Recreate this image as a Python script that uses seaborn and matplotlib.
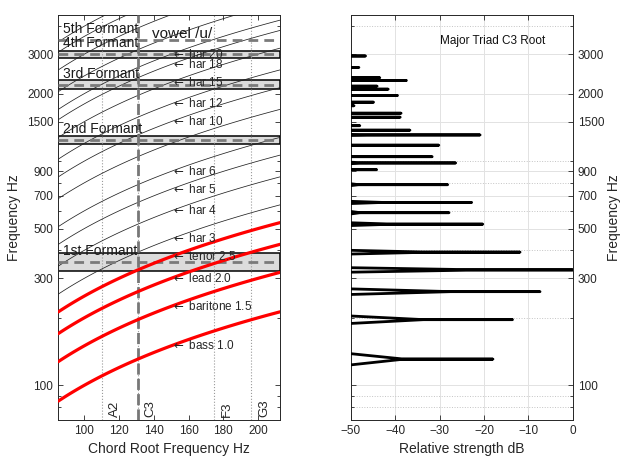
import numpy as np
import pandas as pd
import matplotlib
matplotlib.use('Agg')
import matplotlib.pyplot as plt
import seaborn as sns

sns.set_theme(style='ticks')
plt.rcParams['font.family'] = ['Liberation Sans', 'DejaVu Sans']

# chord / voices
root_hz = 130.81
voice_ratio = [1.0, 1.5, 2.0, 2.5]
voice_name = ['bass', 'baritone', 'lead', 'tenor']

# harmonic guide lines (multiples of root) and which ones get a label
har_lines = [3, 4, 5, 6, 8, 10, 12, 15, 18, 20, 24, 30, 36, 40]
har_labels = [3, 4, 5, 6, 10, 12, 15, 18, 20]

# vowel /u/ formants
formant_hz = [355, 1240, 2195, 2990, 3460]
formant_half = [33, 50, 103, 108, 0]
formant_name = ['1st Formant', '2nd Formant', '3rd Formant', '4th Formant', '5th Formant']

# notes on the x axis
note_hz = [110.0, 130.81, 174.61, 196.0]
note_name = ['A2', 'C3', 'F3', 'G3']

# spectrum peaks of the chord (Hz, dB)
peak_hz = [130.8, 196.2, 261.6, 327.0, 392.4, 523.2, 588.6, 654.0, 784.8, 915.6,
           981.0, 1046.4, 1177.2, 1308.0, 1373.4, 1438.8, 1569.6, 1635.0, 1765.8,
           1831.2, 1962.0, 2093.0, 2158.4, 2289.2, 2354.6, 2616.2, 2943.3]
peak_db = [-18.0, -13.6, -7.4, 0.0, -11.9, -20.3, -27.9, -22.8, -28.2, -44.2,
           -26.4, -31.7, -30.2, -20.9, -36.7, -48.0, -38.9, -38.7, -49.3,
           -44.9, -39.5, -41.6, -44.1, -37.5, -43.5, -48.2, -46.7]

x_lo, x_hi = 85, 212.6
y_lo, y_hi = 70, 4500
y_ticks = [100, 300, 500, 700, 900, 1500, 2000, 3000]
y_minor = [80, 90, 200, 400, 600, 800, 1000, 4000]
ink = '#262626'

fig = plt.figure(figsize=(6.2, 4.58), dpi=100)
ax1 = fig.add_axes([0.094, 0.083, 0.3576, 0.885])
ax2 = fig.add_axes([0.566, 0.083, 0.358, 0.885])

# ---------------- left panel ----------------
ax1.set_yscale('log')
xs = np.linspace(x_lo, x_hi, 80)

# formant bands
for f, hw, name in zip(formant_hz, formant_half, formant_name):
    if hw > 0:
        ax1.axhspan(f - hw, f + hw, facecolor='#dcdcdc', edgecolor='black', lw=1.1, zorder=1)
    ax1.axhline(f, color='#7a7a7a', lw=2, ls=(0, (3.5, 2.2)), zorder=4)
    ax1.text(88, f * 1.12, name, fontsize=10, ha='left', va='center', color='#1a1a1a', zorder=6)
ax1.text(139, 3700, 'vowel /u/', fontsize=11, ha='left', va='center', color='#1a1a1a', zorder=6)

# note markers
for f, name in zip(note_hz, note_name):
    ax1.axvline(f, color='#9a9a9a', lw=0.8, ls=':', zorder=1.5)
    ax1.annotate(name, xy=(f, 72), xytext=(5, 0), textcoords='offset points',
                 rotation=90, ha='left', va='bottom', fontsize=9.5, color=ink)
ax1.axvline(root_hz, color='#777777', lw=2, ls=(0, (4, 1.5)), zorder=4)

# harmonic lines
har_df = pd.DataFrame([(x, n * x, n) for n in har_lines for x in xs], columns=['x', 'f', 'n'])
sns.lineplot(data=har_df, x='x', y='f', units='n', estimator=None, sort=False,
             color='#222222', lw=0.55, ax=ax1, zorder=3)
for n in har_labels:
    ax1.text(150, n * 150, r'$\leftarrow$ har %d' % n, fontsize=8.5, ha='left', va='center', zorder=6)

# voice lines
voice_df = pd.DataFrame([(x, r * x, v) for r, v in zip(voice_ratio, voice_name) for x in xs],
                        columns=['x', 'f', 'voice'])
sns.lineplot(data=voice_df, x='x', y='f', units='voice', estimator=None, sort=False,
             color='#ff0000', lw=2.3, ax=ax1, zorder=5)
for r, v in zip(voice_ratio, voice_name):
    ax1.text(150, r * 150, r'$\leftarrow$ %s %.1f' % (v, r), fontsize=8.5, ha='left', va='center', zorder=6)

ax1.set_xlim(x_lo, x_hi)
ax1.set_ylim(y_lo, y_hi)
ax1.set_xticks(range(100, 201, 20))
ax1.set_yticks(y_ticks, [str(t) for t in y_ticks])
ax1.set_yticks(y_minor, minor=True)
ax1.yaxis.set_minor_formatter(matplotlib.ticker.NullFormatter())
ax1.set_xlabel('Chord Root Frequency Hz', fontsize=10, color=ink)
ax1.set_ylabel('Frequency Hz', fontsize=10, color=ink)

# ---------------- right panel ----------------
ax2.set_yscale('log')
skirt_db, skirt_hz = 20, 7.5
rows = []
for i, (f, a) in enumerate(zip(peak_hz, peak_db)):
    px = [-50, a - skirt_db, a, a - skirt_db, -50]
    py = [f - skirt_hz, f - 0.02, f, f + 0.02, f + skirt_hz]
    rows += [(x, y, i) for x, y in zip(px, py)]
spec_df = pd.DataFrame(rows, columns=['db', 'freq', 'peak'])
sns.lineplot(data=spec_df, x='db', y='freq', units='peak', estimator=None, sort=False,
             color='black', lw=2, solid_capstyle='butt', ax=ax2, zorder=3)

ax2.set_xlim(-50, 0)
ax2.set_ylim(y_lo, y_hi)
ax2.set_xticks(range(-50, 1, 10))
ax2.set_yticks(y_ticks, [str(t) for t in y_ticks])
ax2.set_yticks(y_minor, minor=True)
ax2.yaxis.set_minor_formatter(matplotlib.ticker.NullFormatter())
ax2.grid(True, which='major', color='#e2e2e2', lw=0.7)
ax2.grid(True, which='minor', axis='y', color='#c4c4c4', lw=0.7, ls=':')
ax2.set_axisbelow(True)
ax2.yaxis.tick_right()
ax2.yaxis.set_label_position('right')
ax2.text(-30, 3420, 'Major Triad C3 Root', fontsize=8.5, ha='left', va='center', color='#111111')
ax2.set_xlabel('Relative strength dB', fontsize=10, color=ink)
ax2.set_ylabel('Frequency Hz', fontsize=10, color=ink, labelpad=2)

for ax in (ax1, ax2):
    for s in ax.spines.values():
        s.set_color(ink)
        s.set_linewidth(0.7)
        s.set_visible(True)
    ax.tick_params(which='both', direction='in', top=True, bottom=True, left=True, right=True,
                   colors=ink, labelsize=8.5, width=0.6)
    ax.tick_params(which='major', length=3.5)
    ax.tick_params(which='minor', length=2)
ax2.tick_params(labelleft=False, labelright=True)

fig.savefig('out.png', dpi=100)
